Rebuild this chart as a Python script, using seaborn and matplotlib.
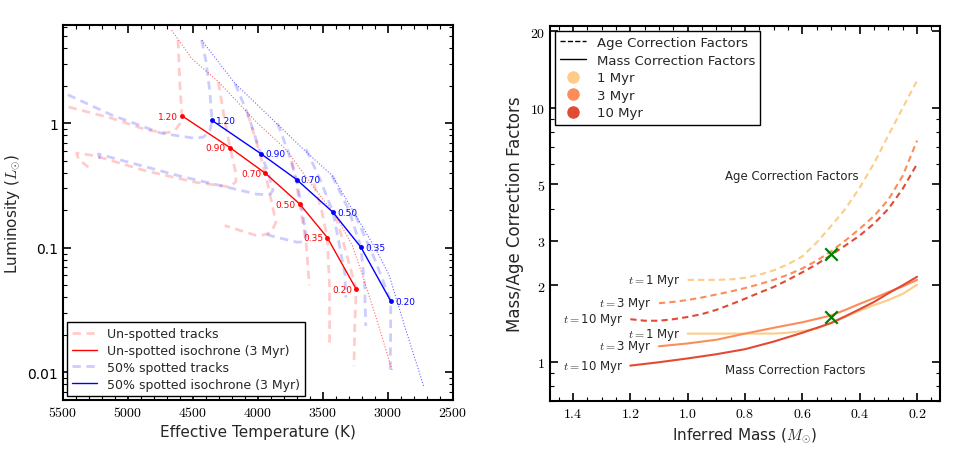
import matplotlib
matplotlib.use("Agg")
import matplotlib.pyplot as plt
from matplotlib.lines import Line2D
from matplotlib.ticker import FixedLocator, FuncFormatter, MultipleLocator, LogLocator, NullFormatter
import seaborn as sns

# ---- data: HR diagram (left) ----
iso_masses = ["1.20", "0.90", "0.70", "0.50", "0.35", "0.20"]
iso_teff_unspot = [4582, 4215, 3944, 3679, 3467, 3244]
iso_lum_unspot = [1.145, 0.638, 0.398, 0.225, 0.121, 0.0464]
iso_teff_spot = [4354, 3979, 3703, 3423, 3208, 2979]
iso_lum_spot = [1.057, 0.572, 0.354, 0.193, 0.101, 0.0374]

young_teff_unspot = [4664, 4510, 4305, 4002, 3787, 3582, 3402, 3274, 3197, 3095, 2966]
young_lum_unspot = [5.60, 3.32, 2.16, 1.0, 0.622, 0.316, 0.182, 0.104, 0.0607, 0.0283, 0.0102]
young_teff_spot = [4433, 4177, 4002, 3659, 3428, 3248, 3095, 2992, 2864, 2723]
young_lum_spot = [4.66, 2.09, 1.40, 0.631, 0.380, 0.182, 0.0982, 0.0607, 0.0221, 0.00759]

track_teff_unspot = [
    [4615, 4600, 4585, 4600, 4640, 4700, 4850, 5125, 5510],
    [4305, 4260, 4215, 4170, 4170, 4220, 4485, 4869, 5254, 5395, 5382, 5305],
    [4080, 4010, 3944, 3890, 3862, 3900, 3960, 4018, 4256],
    [3740, 3710, 3679, 3630, 3605],
    [3570, 3510, 3467, 3450, 3449],
    [3402, 3320, 3244, 3255, 3262],
]
track_lum_unspot = [
    [4.68, 2.0, 1.15, 1.0, 0.871, 0.841, 0.881, 1.10, 1.40],
    [2.15, 1.12, 0.638, 0.398, 0.339, 0.309, 0.337, 0.417, 0.550, 0.578, 0.518, 0.444],
    [1.2, 0.7, 0.398, 0.22, 0.16, 0.133, 0.127, 0.126, 0.151],
    [0.5, 0.35, 0.225, 0.11, 0.05],
    [0.33, 0.2, 0.121, 0.05, 0.016],
    [0.182, 0.09, 0.0464, 0.025, 0.0112],
]
track_teff_spot = [
    [4433, 4400, 4370, 4354, 4370, 4420, 4485, 4741, 5125, 5510],
    [4177, 4080, 3979, 3920, 3885, 3905, 3950, 4010, 4612, 5228, 5202],
    [3850, 3770, 3703, 3660, 3628, 3650, 3700, 3889, 3950],
    [3630, 3520, 3423, 3370, 3330, 3325],
    [3430, 3300, 3208, 3180, 3171],
    [3250, 3100, 2979, 2980, 2983],
]
track_lum_spot = [
    [4.66, 3.16, 1.78, 1.057, 0.871, 0.776, 0.759, 0.832, 1.167, 1.79],
    [2.09, 1.2, 0.572, 0.4, 0.29, 0.272, 0.268, 0.27, 0.38, 0.568, 0.472],
    [1.0, 0.6, 0.354, 0.2, 0.12, 0.112, 0.111, 0.124, 0.13],
    [0.62, 0.35, 0.193, 0.1, 0.06, 0.04],
    [0.38, 0.2, 0.101, 0.05, 0.0236],
    [0.182, 0.08, 0.0374, 0.02, 0.01],
]

# ---- data: correction factors (right) ----
ages = ["1 Myr", "3 Myr", "10 Myr"]
age_colors = ["#fdcc8a", "#fc8d59", "#e34a33"]
age_mass = [
    [1.0, 0.95, 0.9, 0.85, 0.8, 0.75, 0.7, 0.65, 0.6, 0.55, 0.5, 0.45, 0.4, 0.35, 0.3, 0.25, 0.2],
    [1.1, 1.05, 1.0, 0.95, 0.9, 0.85, 0.8, 0.75, 0.7, 0.65, 0.6, 0.55, 0.5, 0.45, 0.4, 0.35,
     0.3, 0.25, 0.2],
    [1.2, 1.15, 1.1, 1.05, 1.0, 0.95, 0.9, 0.85, 0.8, 0.75, 0.7, 0.65, 0.6, 0.55, 0.5, 0.45,
     0.4, 0.35, 0.3, 0.25, 0.2],
]
age_factor = [
    [2.10, 2.10, 2.10, 2.11, 2.14, 2.20, 2.29, 2.42, 2.60, 2.95, 3.42, 4.0, 4.85, 6.05, 7.8,
     10.0, 12.8],
    [1.70, 1.72, 1.75, 1.79, 1.84, 1.89, 1.95, 2.02, 2.10, 2.20, 2.33, 2.50, 2.72, 3.0, 3.34,
     3.75, 4.35, 5.4, 7.43],
    [1.47, 1.45, 1.45, 1.47, 1.50, 1.54, 1.60, 1.68, 1.77, 1.87, 1.97, 2.10, 2.25, 2.42, 2.63,
     2.87, 3.14, 3.5, 4.0, 4.8, 6.01],
]
mass_mass = [
    [1.0, 0.9, 0.8, 0.7, 0.65, 0.6, 0.55, 0.5, 0.45, 0.4, 0.35, 0.3, 0.25, 0.2],
    [1.1, 1.0, 0.9, 0.8, 0.7, 0.6, 0.5, 0.45, 0.4, 0.35, 0.3, 0.25, 0.2],
    [1.2, 1.1, 1.0, 0.9, 0.8, 0.7, 0.6, 0.5, 0.45, 0.4, 0.35, 0.3, 0.25, 0.2],
]
mass_factor = [
    [1.29, 1.29, 1.29, 1.29, 1.30, 1.32, 1.35, 1.42, 1.50, 1.59, 1.67, 1.75, 1.85, 2.01],
    [1.15, 1.18, 1.22, 1.29, 1.36, 1.43, 1.52, 1.60, 1.69, 1.78, 1.88, 1.98, 2.10],
    [0.965, 0.995, 1.03, 1.07, 1.12, 1.20, 1.30, 1.42, 1.51, 1.61, 1.72, 1.86, 2.0, 2.16],
]
x_mass = [0.5, 0.5]
x_factor = [2.65, 1.50]

# ---- style ----
sns.set_style("ticks")
plt.rcParams["font.family"] = ["DejaVu Sans"]
plt.rcParams["mathtext.fontset"] = "cm"
plt.rcParams["axes.linewidth"] = 1.5

fig = plt.figure(figsize=(9.69, 4.52), dpi=100)
ax1 = fig.add_axes([0.065, 0.113, 0.4025, 0.830])
ax2 = fig.add_axes([0.5676, 0.1106, 0.4025, 0.8296])

def math_fmt(v, pos):
    return "$%g$" % v

for ax in (ax1, ax2):
    ax.tick_params(which="both", direction="in", top=True, right=True, colors="k")
    ax.tick_params(which="major", length=6, width=1.2, labelsize=10)
    ax.tick_params(which="minor", length=3, width=0.8)
    for s in ax.spines.values():
        s.set_color("k")

# ---- left panel ----
ax1.set_yscale("log")
for tx, ly in zip(track_teff_unspot, track_lum_unspot):
    sns.lineplot(x=tx, y=ly, sort=False, estimator=None, ax=ax1, color="red",
                 alpha=0.2, lw=2, linestyle=(0, (3, 2)))
for tx, ly in zip(track_teff_spot, track_lum_spot):
    sns.lineplot(x=tx, y=ly, sort=False, estimator=None, ax=ax1, color="blue",
                 alpha=0.2, lw=2, linestyle=(0, (3, 2)))
sns.lineplot(x=young_teff_unspot, y=young_lum_unspot, sort=False, estimator=None,
             ax=ax1, color="red", lw=0.8, alpha=0.6, linestyle=":")
sns.lineplot(x=young_teff_spot, y=young_lum_spot, sort=False, estimator=None,
             ax=ax1, color="blue", lw=0.8, alpha=0.6, linestyle=":")
sns.lineplot(x=iso_teff_unspot, y=iso_lum_unspot, sort=False, estimator=None,
             ax=ax1, color="red", lw=1, marker="o", markersize=3.5, markeredgewidth=0)
sns.lineplot(x=iso_teff_spot, y=iso_lum_spot, sort=False, estimator=None,
             ax=ax1, color="blue", lw=1, marker="o", markersize=3.5, markeredgewidth=0)
for m, t, l in zip(iso_masses, iso_teff_unspot, iso_lum_unspot):
    ax1.annotate(m, (t, l), xytext=(-3, 0), textcoords="offset points",
                 ha="right", va="center", fontsize=6.5, color="red")
for m, t, l in zip(iso_masses, iso_teff_spot, iso_lum_spot):
    ax1.annotate(m, (t, l), xytext=(3, 0), textcoords="offset points",
                 ha="left", va="center", fontsize=6.5, color="blue")

ax1.set_xlim(5500, 2500)
ax1.set_ylim(0.006, 6.2)
ax1.xaxis.set_major_locator(MultipleLocator(500))
ax1.xaxis.set_minor_locator(MultipleLocator(100))
ax1.xaxis.set_major_formatter(FuncFormatter(math_fmt))
ax1.yaxis.set_major_locator(FixedLocator([0.01, 0.1, 1]))
ax1.yaxis.set_major_formatter(FuncFormatter(lambda v, p: "%g" % v))
ax1.yaxis.set_minor_locator(LogLocator(base=10, subs=range(2, 10)))
ax1.yaxis.set_minor_formatter(NullFormatter())
ax1.set_xlabel("Effective Temperature (K)", fontsize=11)
ax1.set_ylabel(r"Luminosity ($L_{\odot}$)", fontsize=11)

h1 = [
    Line2D([], [], color="red", alpha=0.2, lw=2, linestyle=(0, (3, 2))),
    Line2D([], [], color="red", lw=1),
    Line2D([], [], color="blue", alpha=0.2, lw=2, linestyle=(0, (3, 2))),
    Line2D([], [], color="blue", lw=1),
]
lab1 = ["Un-spotted tracks", "Un-spotted isochrone (3 Myr)",
        "50% spotted tracks", "50% spotted isochrone (3 Myr)"]
leg1 = ax1.legend(h1, lab1, loc="lower left", fontsize=9, frameon=True,
                  fancybox=False, edgecolor="k", framealpha=1,
                  borderaxespad=0.35, labelspacing=0.3, handlelength=2)
leg1.get_frame().set_linewidth(1)

# ---- right panel ----
ax2.set_yscale("log")
for i in range(3):
    sns.lineplot(x=age_mass[i], y=age_factor[i], sort=False, estimator=None, ax=ax2,
                 color=age_colors[i], lw=1.5, linestyle=(0, (3, 2)))
    sns.lineplot(x=mass_mass[i], y=mass_factor[i], sort=False, estimator=None, ax=ax2,
                 color=age_colors[i], lw=1.5)
    ax2.text(age_mass[i][0] + 0.025, age_factor[i][0], "$t=$" + ages[i],
             ha="right", va="center", fontsize=8.5)
    ax2.text(mass_mass[i][0] + 0.025, mass_factor[i][0], "$t=$" + ages[i],
             ha="right", va="center", fontsize=8.5)
sns.scatterplot(x=x_mass, y=x_factor, ax=ax2, marker="x", color="green", s=80,
                linewidth=1.6, zorder=5)
ax2.text(0.637, 5.4, "Age Correction Factors", ha="center", va="center", fontsize=8.5)
ax2.text(0.626, 0.93, "Mass Correction Factors", ha="center", va="center", fontsize=8.5)

ax2.set_xlim(1.48, 0.12)
ax2.set_ylim(0.70, 21)
ax2.xaxis.set_major_locator(MultipleLocator(0.2))
ax2.xaxis.set_minor_locator(MultipleLocator(0.05))
ax2.xaxis.set_major_formatter(FuncFormatter(lambda v, p: "$%.1f$" % v))
ax2.yaxis.set_major_locator(FixedLocator([1, 2, 3, 5, 10, 20]))
ax2.yaxis.set_major_formatter(FuncFormatter(math_fmt))
ax2.yaxis.set_minor_locator(LogLocator(base=10, subs=range(2, 10)))
ax2.yaxis.set_minor_formatter(NullFormatter())
ax2.set_xlabel(r"Inferred Mass ($M_{\odot}$)", fontsize=11)
ax2.set_ylabel("Mass/Age Correction Factors", fontsize=12)

h2 = [Line2D([], [], color="k", lw=1, linestyle="--"),
      Line2D([], [], color="k", lw=1)]
h2 += [Line2D([], [], color=c, marker="o", linestyle="", markersize=8) for c in age_colors]
lab2 = ["Age Correction Factors", "Mass Correction Factors"] + ages
leg2 = ax2.legend(h2, lab2, loc="upper left", fontsize=9.5, frameon=True,
                  fancybox=False, edgecolor="k", framealpha=1,
                  borderaxespad=0.35, labelspacing=0.35, handlelength=2)
leg2.get_frame().set_linewidth(1)

fig.savefig("out.png", dpi=100)
